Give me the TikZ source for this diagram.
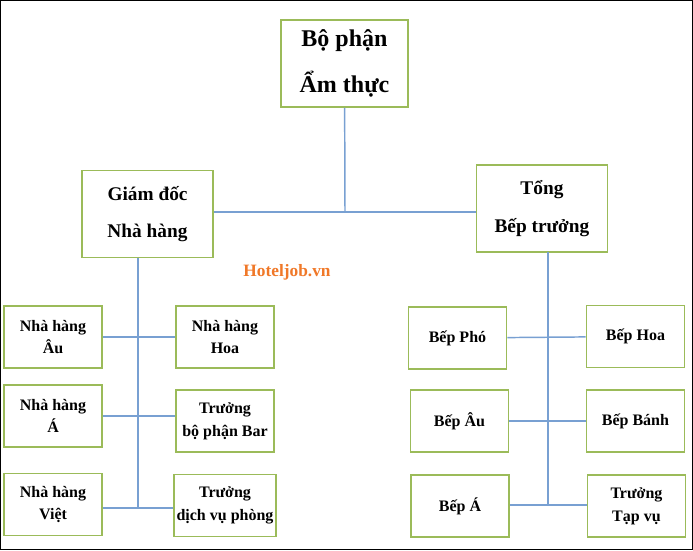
\documentclass[tikz,border=0pt]{standalone}
\usepackage{fontspec}
\setmainfont{Liberation Serif}
\usetikzlibrary{positioning}
\definecolor{boxgreen}{RGB}{155,187,89}
\definecolor{lineblue}{RGB}{120,160,210}
\definecolor{markorange}{RGB}{240,120,40}
\tikzset{
  unit/.style={draw=boxgreen, line width=1.2pt, fill=white, align=center,
    font=\bfseries, inner sep=2pt},
  big/.style={unit, minimum width=95.25pt, minimum height=65.25pt, font=\bfseries\fontsize{18}{34}\selectfont},
  mid/.style={unit, minimum width=98.25pt, minimum height=65.25pt, font=\bfseries\fontsize{14.5}{28}\selectfont},
  small/.style={unit, minimum width=73.5pt, minimum height=46.5pt, font=\bfseries\fontsize{12}{17}\selectfont},
  link/.style={draw=lineblue, line width=1.1pt}
}
\begin{document}
\begin{tikzpicture}[x=0.75pt,y=-0.75pt]
    \draw[line width=0.8pt] (0.5,0.5) rectangle (692.5,549.5);
    % junction points of the tree
    \coordinate (j) at (345,212);
    \coordinate (lt) at (138,258);
    \coordinate (lb) at (138,508);
    \coordinate (rt) at (548,252);
    \coordinate (rb) at (548,505);

    % top level
    \node[big] (amthuc) at (344.5,63.5) {Bộ phận\\Ẩm thực};
    \node[mid] (giamdoc) at (147.5,214) {Giám đốc\\Nhà hàng};
    \node[mid] (tongbep) at (542,208.5) {Tổng\\Bếp trưởng};

    % restaurant side
    \node[small] (nhau) at (53,337) {Nhà hàng\\Âu};
    \node[small] (nha) at (53,416) {Nhà hàng\\Á};
    \node[small] (nhviet) at (53,504.5) {Nhà hàng\\Việt};
    \node[small] (nhhoa) at (225,337) {Nhà hàng\\Hoa};
    \node[small] (bar) at (225,421) {Trưởng\\bộ phận Bar};
    \node[small] (phong) at (225,505.5) {Trưởng\\dịch vụ phòng};

    % kitchen side
    \node[small] (bepho) at (457.5,338) {Bếp Phó};
    \node[small] (bepau) at (459.5,421) {Bếp Âu};
    \node[small] (bepa) at (460,506) {Bếp Á};
    \node[small] (bephoa) at (635.5,336.5) {Bếp Hoa};
    \node[small] (bepbanh) at (635.5,421) {Bếp Bánh};
    \node[small] (tapvu) at (636.5,506) {Trưởng\\Tạp vụ};

    \node[text=markorange, font=\bfseries\fontsize{13}{15}\selectfont] (mark) at (287,272) {Hoteljob.vn};

    \path[link] (amthuc) -- (j);
    \path[link] (giamdoc.east |- j) -- (tongbep.west |- j);
    \path[link] (lt) -- (lb);
    \path[link] (nhau) -- (nhhoa);
    \path[link] (nha.east) -- (bar.west |- nha.east);
    \path[link] (nhviet.east |- lb) -- (phong.west |- lb);
    \path[link] (rt) -- (rb);
    \path[link] (bepho) -- (bephoa);
    \path[link] (bepau) -- (bepbanh);
    \path[link] (bepa.east |- rb) -- (tapvu.west |- rb);
\end{tikzpicture}
\end{document}
